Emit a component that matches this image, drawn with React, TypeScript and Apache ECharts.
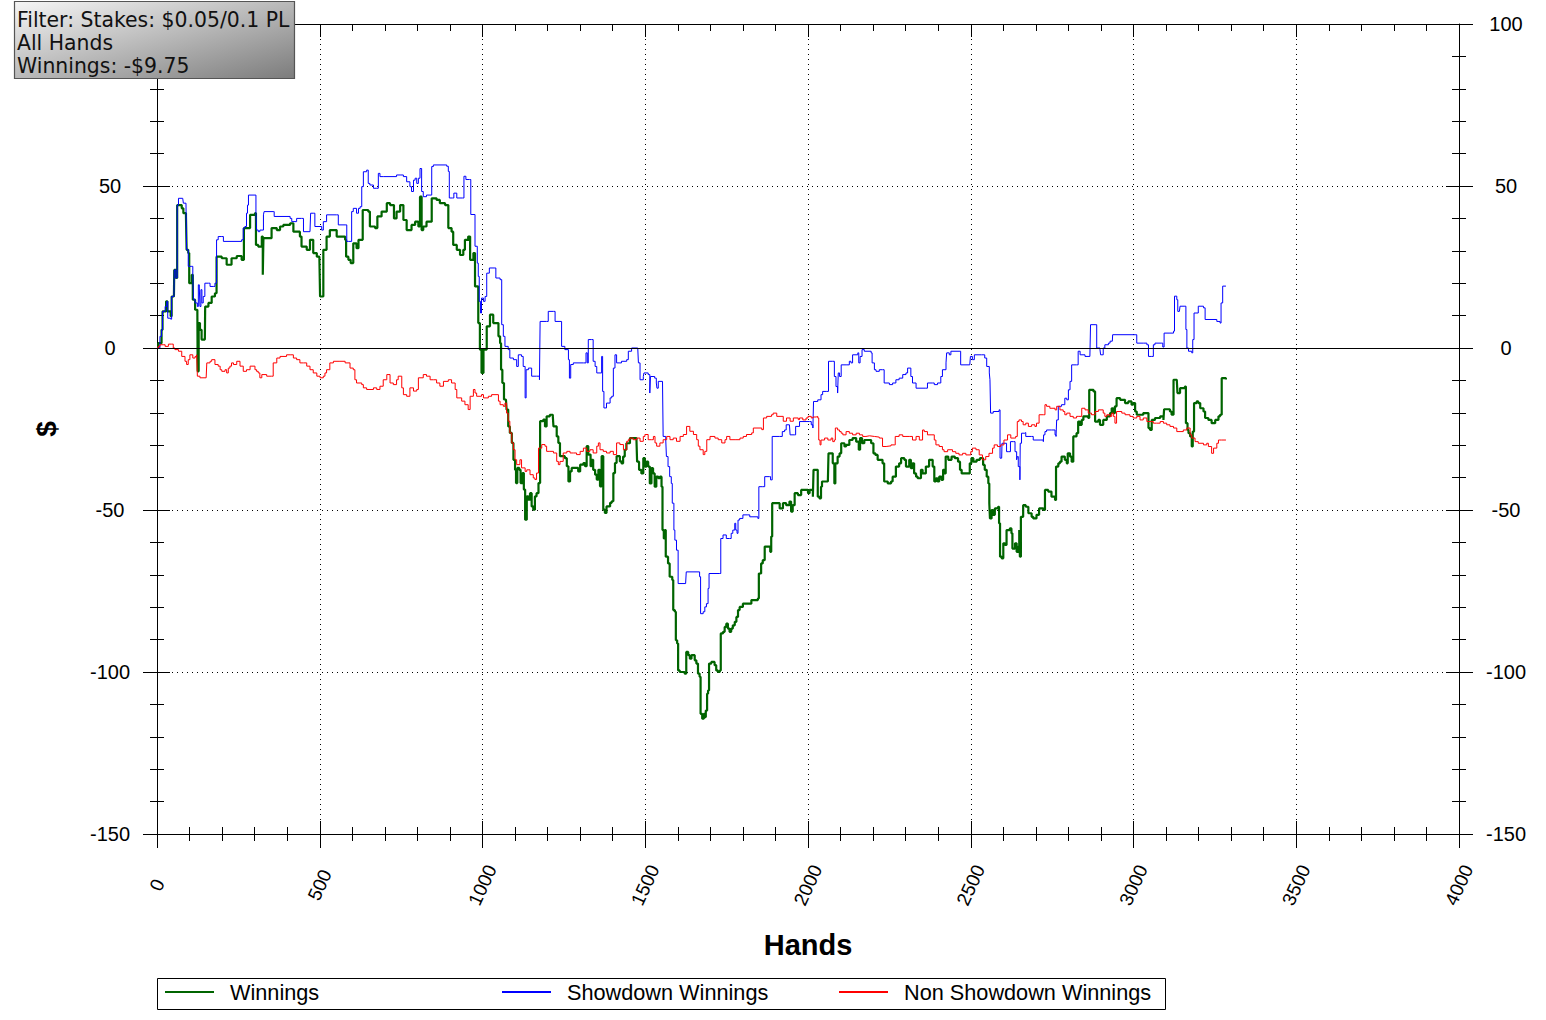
import React, { useEffect, useRef } from "react";
import * as echarts from "echarts";

const X_MIN = 0;
const X_MAX = 4000;
const X_STEP = 500;
const Y_MIN = -150;
const Y_MAX = 100;
const Y_STEP = 50;

const X_TITLE = "Hands";
const Y_TITLE = "$";
const SERIES_NAMES = ["Winnings", "Showdown Winnings", "Non Showdown Winnings"];
const SERIES_COLORS = ["#006400", "#0000ff", "#ff0000"];
const SERIES_WIDTHS = [2.2, 1, 1];
const FILTER_LINES = ["Filter: Stakes: $0.05/0.1 PL", "All Hands", "Winnings: -$9.75"];

// [hand, $]
const WINNINGS = [
  [0, 0], [4, 1.5], [14, 5.6], [17, 11.3], [28, 14.4], [32, 11.3], [42, 9.8], [45, 15.9], [52, 15.9], [53, 24.1], [58, 21.6],
  [62, 44.1], [76, 43.1], [81, 41.6], [89, 40.6], [91, 30.3], [96, 29.3], [99, 20.0], [107, 22.6], [110, 14.9], [117, 11.8],
  [124, 10.8], [125, -7.2], [128, 7.7], [132, 5.6], [137, 2.6], [147, 2.6], [148, 12.8], [158, 13.9], [168, 15.9], [178, 16.9],
  [183, 28.2], [199, 27.7], [214, 25.7], [229, 27.7], [245, 28.4], [260, 27.2], [267, 37.0], [281, 37.0], [286, 41.1], [301, 41.6],
  [304, 31.8], [311, 31.3], [322, 34.4], [325, 22.6], [327, 33.9], [347, 33.9], [352, 37.0], [368, 36.4], [378, 37.5], [388, 38.0],
  [409, 38.5], [419, 35.9], [434, 35.9], [439, 34.4], [444, 31.3], [460, 30.3], [470, 33.4], [480, 29.3], [491, 28.2], [499, 27.2],
  [501, 15.9], [506, 15.9], [511, 30.3], [521, 34.4], [531, 36.4], [542, 36.4], [552, 34.4], [562, 34.4], [578, 33.4], [581, 28.2],
  [588, 27.2], [595, 26.2], [603, 32.3], [613, 30.8], [619, 33.4], [624, 33.4], [632, 42.6], [649, 42.1], [654, 37.5], [670, 37.0],
  [677, 40.6], [690, 42.1], [706, 44.7], [716, 44.1], [728, 40.0], [736, 42.1], [747, 44.1], [757, 39.5], [767, 36.4], [782, 38.0],
  [793, 39.0], [803, 37.5], [808, 46.7], [813, 36.4], [818, 37.5], [828, 39.0], [844, 46.2], [859, 45.7], [869, 44.7], [885, 44.1],
  [895, 37.0], [905, 35.9], [910, 31.8], [921, 30.3], [931, 28.7], [941, 30.3], [946, 33.4], [956, 34.4], [962, 27.2], [972, 29.3],
  [977, 19.0], [987, 7.7], [992, -0.5], [997, -7.7], [1003, -0.5], [1013, 6.7], [1023, 10.3], [1033, 7.7], [1049, 3.6], [1054, 1.5],
  [1057, -6.7], [1061, -10.8], [1066, -15.9], [1072, -15.9], [1074, -19.0], [1079, -24.2], [1084, -26.2], [1090, -29.3], [1095, -34.5],
  [1100, -37.6], [1103, -41.7], [1107, -37.0], [1113, -37.6], [1117, -41.7], [1123, -38.6], [1127, -43.7], [1131, -53.0], [1136, -45.8],
  [1141, -46.8], [1146, -44.8], [1151, -48.9], [1156, -49.9], [1161, -45.8], [1166, -44.8], [1172, -41.7], [1177, -22.6], [1187, -22.1],
  [1192, -24.2], [1197, -21.1], [1207, -20.6], [1216, -21.1], [1218, -24.2], [1223, -24.2], [1228, -27.3], [1233, -29.3], [1238, -33.4],
  [1253, -34.0], [1259, -36.5], [1264, -41.2], [1269, -38.1], [1274, -37.0], [1284, -37.0], [1294, -38.1], [1300, -36.0], [1310, -35.5],
  [1315, -36.5], [1320, -30.3], [1325, -32.9], [1332, -36.5], [1335, -34.5], [1340, -37.6], [1346, -39.1], [1351, -40.6], [1356, -37.6],
  [1361, -42.7], [1366, -33.4], [1371, -49.9], [1376, -50.9], [1381, -48.9], [1392, -47.8], [1397, -47.3], [1402, -38.6], [1407, -35.5],
  [1412, -33.4], [1422, -35.0], [1427, -35.6], [1432, -33.5], [1437, -31.4], [1442, -29.4], [1453, -27.8], [1463, -27.8], [1473, -28.4],
  [1475, -35.1], [1481, -37.6], [1488, -38.7], [1494, -34.0], [1499, -36.6], [1504, -35.1], [1509, -36.6], [1514, -41.8], [1519, -37.1],
  [1524, -38.7], [1529, -42.8], [1534, -39.7], [1540, -40.2], [1545, -39.7], [1550, -42.8], [1553, -56.2], [1557, -58.8], [1560, -56.2],
  [1563, -64.4], [1570, -66.5], [1575, -70.6], [1583, -71.6], [1586, -80.9], [1591, -81.4], [1594, -90.2], [1598, -91.2], [1601, -99.5],
  [1606, -100], [1616, -100], [1621, -100.5], [1626, -93.8], [1632, -94.8], [1637, -95.9], [1642, -94.8], [1652, -96.4], [1657, -97.4],
  [1662, -100.5], [1667, -101.5], [1670, -112.9], [1675, -114.4], [1680, -112.9], [1683, -113.9], [1686, -111.9], [1690, -106.7],
  [1693, -105.7], [1696, -97.4], [1703, -96.9], [1713, -97.9], [1718, -99.5], [1723, -100], [1729, -99.5], [1732, -88.1], [1739, -87.6],
  [1744, -86.1], [1749, -85.1], [1754, -86.6], [1759, -87.6], [1764, -86.6], [1769, -85.6], [1775, -84.5], [1780, -83.0], [1785, -80.9],
  [1790, -79.9], [1800, -78.9], [1821, -78.9], [1826, -77.8], [1846, -77.3], [1849, -69.6], [1856, -66.5], [1861, -65.5], [1867, -61.3],
  [1877, -61.3], [1884, -62.9], [1887, -58.2], [1890, -47.9], [1902, -47.9], [1913, -49.5], [1923, -47.9], [1933, -48.5], [1943, -47.4],
  [1948, -50.5], [1953, -48.5], [1959, -44.8], [1969, -45.4], [1979, -43.8], [1989, -43.8], [2000, -44.8], [2005, -43.8], [2015, -45.9],
  [2017, -37.6], [2025, -37.6], [2030, -45.9], [2035, -46.4], [2040, -42.8], [2043, -41.2], [2061, -41.2], [2063, -32.5], [2073, -32.5],
  [2076, -35.6], [2081, -41.8], [2084, -35.6], [2091, -33.5], [2097, -32.5], [2102, -29.4], [2112, -30.4], [2117, -29.9], [2127, -28.4],
  [2137, -27.8], [2148, -28.9], [2156, -31.4], [2160, -27.8], [2166, -29.4], [2173, -28.4], [2183, -28.4], [2194, -29.4], [2201, -32.5],
  [2207, -33.0], [2214, -34.5], [2229, -35.6], [2234, -41.2], [2245, -41.8], [2255, -41.2], [2260, -39.7], [2270, -36.6], [2280, -35.6],
  [2286, -34.0], [2296, -34.5], [2301, -36.6], [2311, -34.5], [2316, -37.1], [2321, -35.6], [2326, -38.7], [2332, -39.7], [2337, -40.2],
  [2347, -37.6], [2352, -38.7], [2362, -36.6], [2372, -34.5], [2383, -36.6], [2388, -41.2], [2393, -40.2], [2398, -41.2], [2403, -39.7],
  [2410, -40.7], [2415, -37.6], [2420, -38.7], [2423, -33.5], [2431, -34.5], [2441, -33.5], [2451, -34.0], [2461, -35.1], [2467, -37.6],
  [2472, -38.7], [2487, -38.7], [2497, -35.6], [2502, -34.0], [2508, -35.1], [2518, -34.5], [2528, -34.0], [2538, -36.1], [2543, -37.6],
  [2549, -39.7], [2554, -41.8], [2557, -47.9], [2559, -52.6], [2564, -50.0], [2569, -51.5], [2574, -49.5], [2584, -49.0], [2587, -54.1],
  [2590, -64.4], [2595, -64.9], [2600, -60.3], [2605, -60.8], [2610, -56.2], [2620, -55.7], [2625, -57.2], [2628, -61.9], [2636, -60.3],
  [2641, -62.9], [2646, -61.3], [2649, -56.2], [2651, -64.4], [2654, -52.1], [2661, -48.5], [2669, -49.0], [2677, -51.0], [2687, -52.1],
  [2692, -52.6], [2702, -51.5], [2710, -49.5], [2723, -50.0], [2728, -43.8], [2738, -44.3], [2748, -45.9], [2759, -46.9], [2762, -36.6],
  [2769, -35.6], [2774, -35.1], [2779, -33.5], [2789, -34.5], [2795, -35.6], [2798, -32.5], [2805, -33.5], [2810, -35.1], [2815, -27.3],
  [2825, -26.3], [2830, -22.7], [2836, -23.7], [2841, -22.2], [2846, -21.1], [2861, -21.6], [2864, -12.9], [2877, -13.4], [2882, -22.7],
  [2892, -22.2], [2897, -23.7], [2907, -22.2], [2918, -21.1], [2928, -20.1], [2933, -18.6], [2938, -20.1], [2943, -18.0], [2948, -15.5],
  [2959, -16.0], [2974, -17.0], [2984, -16.5], [2994, -17.5], [2999, -17.0], [3005, -19.6], [3010, -20.6], [3030, -20.1], [3041, -20.1],
  [3046, -24.7], [3051, -25.3], [3056, -22.2], [3066, -21.6], [3082, -21.1], [3092, -22.2], [3094, -18.9], [3112, -19.6], [3117, -20.6],
  [3123, -9.8], [3133, -9.8], [3135, -13.9], [3143, -12.4], [3158, -11.9], [3161, -23.2], [3166, -25.3], [3169, -26.3], [3174, -27.3],
  [3179, -30.4], [3182, -25.8], [3186, -17.0], [3194, -16.5], [3199, -17.0], [3205, -18.6], [3215, -19.6], [3220, -21.6], [3230, -22.2],
  [3240, -23.2], [3251, -22.2], [3261, -21.1], [3266, -20.6], [3271, -9.3], [3284, -9.75],
];

const SHOWDOWN = [
  [0, 0], [9, 3.6], [14, 5.6], [17, 11.3], [25, 12.8], [30, 14.4], [33, 9.2], [42, 8.9], [45, 15.9], [52, 15.9], [53, 24.1], [58, 21.6],
  [62, 44.1], [66, 46.2], [79, 46.2], [81, 44.7], [89, 44.7], [91, 30.3], [96, 25.2], [107, 25.2], [110, 22.6], [112, 14.9], [117, 13.9],
  [124, 12.8], [127, 19.5], [130, 18.5], [132, 12.8], [135, 18.0], [138, 13.9], [142, 15.9], [147, 20.0], [158, 20.0], [163, 19.0],
  [173, 19.0], [178, 20.0], [183, 33.4], [188, 34.4], [199, 34.4], [204, 32.9], [255, 32.9], [260, 33.4], [265, 37.0], [270, 37.5],
  [275, 41.6], [278, 44.1], [281, 47.2], [301, 47.2], [304, 41.6], [306, 36.4], [311, 35.9], [316, 36.4], [327, 41.1], [329, 42.1],
  [357, 42.1], [360, 40.6], [409, 40.0], [414, 39.0], [424, 39.0], [429, 40.0], [444, 40.0], [450, 35.9], [470, 35.9], [472, 41.6],
  [480, 41.6], [485, 37.5], [501, 37.5], [506, 36.4], [511, 39.0], [521, 41.1], [552, 41.1], [557, 38.0], [578, 38.0], [583, 32.9],
  [588, 32.9], [598, 42.1], [603, 43.1], [613, 41.6], [619, 43.1], [624, 43.6], [629, 49.8], [634, 54.4], [644, 54.9], [649, 50.8],
  [654, 50.3], [665, 49.3], [675, 49.3], [680, 53.9], [685, 52.9], [695, 52.9], [736, 53.4], [747, 53.4], [757, 52.9], [767, 51.3],
  [777, 49.8], [782, 48.3], [788, 51.8], [793, 52.4], [798, 50.8], [803, 52.4], [808, 55.4], [813, 48.3], [818, 46.7], [828, 47.2],
  [844, 56.0], [849, 56.5], [885, 56.5], [890, 56.1], [895, 54.5], [898, 46.3], [908, 46.3], [912, 47.8], [921, 46.3], [939, 46.3],
  [943, 53.0], [949, 52.0], [960, 52.0], [964, 41.2], [974, 41.2], [977, 31.4], [984, 26.2], [987, 22.1], [990, 14.4], [994, 10.8],
  [997, 15.4], [1003, 14.4], [1008, 15.9], [1013, 23.1], [1021, 24.7], [1038, 24.7], [1041, 21.6], [1054, 21.1], [1059, 7.2], [1064, 3.6],
  [1069, 0.5], [1079, -0.5], [1084, -3.1], [1095, -3.6], [1105, -5.7], [1110, -2.1], [1120, -2.6], [1125, -5.7], [1131, -15.4],
  [1134, -6.7], [1141, -6.2], [1151, -8.7], [1166, -8.7], [1175, -9.8], [1177, 8.2], [1197, 8.2], [1202, 11.3], [1218, 11.3], [1223, 8.2],
  [1238, 8.2], [1243, 0.5], [1253, -0.5], [1264, -3.6], [1267, -9.3], [1271, -5.1], [1279, -4.6], [1310, -4.6], [1318, -1.5], [1322, -4.6],
  [1325, 2.6], [1335, 2.6], [1340, -4.1], [1346, -5.7], [1351, -7.7], [1361, -7.7], [1366, -2.6], [1369, -13.4], [1373, -18.5],
  [1381, -17.0], [1392, -15.4], [1397, -14.9], [1402, -6.2], [1407, -2.1], [1412, -4.6], [1422, -4.6], [1427, -4.1], [1443, -3.6],
  [1448, -1.0], [1458, 0], [1477, 0], [1479, -4.6], [1484, -9.8], [1494, -8.8], [1496, -7.7], [1509, -8.2], [1514, -13.9], [1516, -8.8],
  [1524, -8.8], [1529, -9.3], [1534, -10.8], [1536, -12.4], [1540, -10.3], [1553, -10.3], [1555, -27.3], [1563, -28.4], [1565, -33.5],
  [1570, -36.6], [1575, -39.7], [1580, -41.8], [1583, -47.9], [1588, -56.2], [1591, -59.3], [1596, -62.4], [1601, -72.7], [1624, -72.7],
  [1626, -69.1], [1662, -69.1], [1667, -70.6], [1670, -82.0], [1678, -81.4], [1683, -79.9], [1688, -78.9], [1693, -74.2], [1696, -69.6],
  [1729, -69.6], [1732, -58.8], [1739, -57.7], [1749, -58.8], [1759, -58.8], [1764, -57.2], [1769, -56.2], [1775, -54.1], [1778, -56.2],
  [1782, -57.2], [1785, -53.1], [1790, -52.6], [1800, -51.5], [1815, -51.5], [1821, -52.1], [1846, -52.6], [1849, -42.8], [1861, -42.8],
  [1867, -39.7], [1882, -39.7], [1885, -40.7], [1890, -27.3], [1913, -27.3], [1921, -25.8], [1928, -25.3], [1933, -23.7], [1943, -23.7],
  [1945, -26.8], [1959, -26.8], [1962, -24.2], [1974, -22.7], [2005, -22.7], [2010, -23.7], [2015, -24.7], [2017, -16.5], [2030, -16.0],
  [2040, -14.4], [2045, -13.4], [2056, -13.4], [2063, -4.1], [2076, -4.1], [2081, -8.8], [2086, -11.9], [2091, -13.9], [2093, -7.7],
  [2097, -8.8], [2102, -5.2], [2117, -5.2], [2127, -4.1], [2132, -4.6], [2137, -2.1], [2153, -1.5], [2156, -4.6], [2160, -2.6],
  [2166, -0.5], [2173, -1.0], [2194, -1.5], [2197, -4.6], [2204, -6.7], [2209, -7.2], [2219, -6.7], [2229, -6.7], [2234, -10.8],
  [2250, -11.3], [2260, -10.8], [2270, -9.8], [2280, -9.3], [2291, -8.2], [2301, -7.7], [2306, -6.2], [2316, -8.8], [2321, -10.8],
  [2332, -12.4], [2362, -12.4], [2367, -10.8], [2383, -10.8], [2388, -11.3], [2398, -10.8], [2408, -8.8], [2413, -6.7], [2424, -4.6],
  [2426, -1.5], [2434, -2.1], [2439, -1.0], [2464, -1.0], [2469, -5.2], [2497, -5.2], [2499, -2.6], [2505, -3.6], [2511, -2.1],
  [2533, -2.1], [2543, -3.1], [2549, -5.7], [2557, -7.7], [2559, -9.8], [2561, -20.1], [2569, -19.6], [2587, -19.1], [2590, -34.0],
  [2595, -34.0], [2596, -29.4], [2605, -29.4], [2610, -32.0], [2615, -32.0], [2622, -28.9], [2631, -28.9], [2636, -32.0], [2641, -34.5],
  [2643, -33.5], [2646, -36.6], [2651, -40.7], [2652, -29.4], [2656, -26.3], [2666, -26.1], [2669, -27.3], [2687, -27.3], [2692, -28.4],
  [2713, -28.4], [2723, -28.9], [2724, -26.8], [2728, -25.8], [2733, -25.3], [2748, -25.3], [2759, -26.8], [2762, -27.3], [2764, -22.2],
  [2769, -18.0], [2779, -17.5], [2789, -15.5], [2795, -16.0], [2800, -12.9], [2805, -10.3], [2810, -5.2], [2825, -5.2], [2830, -1.0],
  [2836, -2.1], [2851, -2.6], [2866, -2.6], [2868, 7.2], [2882, 7.2], [2887, 0], [2897, -0.5], [2899, -2.1], [2907, 0], [2912, 1.0],
  [2923, 1.5], [2928, 2.1], [2935, 2.1], [2936, 4.1], [3005, 4.1], [3010, 1.5], [3030, 1.5], [3041, 1.0], [3046, -2.6], [3056, -2.6],
  [3061, 1.0], [3066, 1.5], [3087, 1.5], [3090, 0.3], [3094, 4.6], [3112, 4.6], [3123, 5.2], [3126, 16.0], [3133, 14.9], [3136, 11.3],
  [3141, 11.3], [3143, 12.9], [3158, 12.9], [3161, 5.7], [3164, 0], [3169, -1.0], [3179, -1.5], [3182, 2.6], [3186, 10.8], [3192, 10.8],
  [3199, 12.9], [3215, 12.4], [3220, 8.8], [3256, 8.2], [3266, 7.7], [3269, 13.9], [3274, 19.1], [3284, 19.1],
];

const NON_SHOWDOWN = [
  [0, 0], [4, 0.5], [9, 1.0], [19, 1.0], [25, 0.5], [35, 1.2], [45, 1.2], [50, 0], [55, -0.5], [66, -1.0], [76, -2.6], [86, -4.1],
  [91, -5.1], [96, -3.6], [101, -2.1], [110, -3.1], [117, -2.6], [122, -2.1], [124, -8.7], [132, -9.2], [151, -9.2], [153, -4.6],
  [163, -4.1], [168, -3.6], [178, -5.1], [188, -5.6], [194, -6.7], [199, -7.2], [209, -6.7], [214, -7.7], [219, -6.2], [224, -5.6],
  [229, -4.6], [235, -5.1], [245, -4.1], [255, -5.6], [265, -7.2], [275, -6.7], [286, -5.6], [301, -6.7], [306, -7.2], [311, -7.7],
  [316, -9.2], [322, -8.2], [337, -8.7], [352, -8.7], [357, -4.6], [368, -3.1], [378, -2.6], [398, -2.1], [409, -2.1], [419, -3.1],
  [429, -3.6], [439, -4.6], [450, -4.6], [460, -5.6], [470, -6.7], [480, -7.7], [491, -8.7], [501, -9.2], [511, -8.7], [516, -7.7],
  [521, -6.7], [531, -4.6], [542, -4.1], [562, -4.1], [578, -4.6], [593, -6.2], [603, -6.7], [608, -9.8], [613, -10.8], [629, -11.3],
  [634, -12.3], [644, -12.8], [665, -12.3], [675, -12.8], [685, -11.8], [695, -9.8], [706, -8.2], [716, -10.8], [726, -11.3],
  [736, -9.8], [741, -8.7], [752, -12.3], [757, -14.4], [767, -14.9], [777, -12.3], [788, -13.3], [798, -12.8], [803, -9.2],
  [818, -8.2], [828, -8.7], [839, -9.8], [849, -9.8], [859, -10.8], [869, -11.8], [880, -10.3], [895, -9.8], [905, -10.8],
  [916, -12.8], [921, -15.4], [936, -16.4], [946, -17.5], [956, -19.0], [962, -14.9], [972, -12.8], [977, -13.9], [982, -14.9],
  [997, -14.4], [1003, -15.4], [1018, -14.9], [1028, -14.4], [1049, -16.4], [1054, -17.5], [1064, -18.0], [1069, -17.0], [1074, -20.1],
  [1079, -22.6], [1084, -26.2], [1090, -29.3], [1095, -31.4], [1100, -34.5], [1105, -36.0], [1115, -34.5], [1120, -37.0], [1131, -38.1],
  [1136, -37.6], [1146, -39.1], [1156, -40.1], [1161, -40.6], [1166, -38.6], [1172, -30.9], [1177, -30.9], [1182, -29.8], [1192, -30.3],
  [1197, -31.9], [1207, -31.9], [1218, -32.4], [1228, -35.0], [1233, -36.0], [1238, -35.0], [1248, -32.4], [1259, -31.9], [1269, -32.4],
  [1279, -32.4], [1289, -32.9], [1300, -31.9], [1310, -30.9], [1320, -31.9], [1330, -31.4], [1340, -32.4], [1351, -30.3], [1356, -29.3],
  [1361, -31.4], [1371, -31.9], [1381, -32.4], [1392, -31.9], [1402, -32.9], [1412, -29.3], [1422, -29.8], [1433, -31.4], [1443, -28.8],
  [1448, -28.3], [1453, -27.8], [1463, -28.3], [1474, -27.8], [1484, -28.8], [1494, -27.3], [1499, -26.7], [1509, -28.3], [1520, -28.3],
  [1525, -27.3], [1530, -29.3], [1535, -30.3], [1545, -29.3], [1555, -28.3], [1566, -27.3], [1576, -28.3], [1586, -27.8], [1596, -28.8],
  [1607, -27.3], [1617, -26.7], [1627, -24.2], [1637, -25.7], [1648, -26.7], [1658, -28.3], [1663, -30.3], [1668, -31.4], [1678, -32.9],
  [1683, -31.9], [1689, -28.3], [1699, -27.3], [1714, -27.8], [1724, -28.3], [1735, -29.3], [1745, -28.3], [1750, -27.3], [1760, -28.3],
  [1776, -28.3], [1791, -27.8], [1801, -27.3], [1811, -26.7], [1827, -26.2], [1832, -24.7], [1858, -25.2], [1863, -21.6], [1873, -21.1],
  [1888, -20.6], [1893, -20.1], [1904, -21.1], [1914, -21.1], [1924, -22.6], [1934, -21.6], [1945, -22.6], [1955, -21.6], [1970, -22.1],
  [1974, -21.6], [1984, -22.2], [1994, -21.6], [2000, -21.1], [2010, -21.6], [2015, -21.3], [2025, -21.1], [2030, -21.6], [2033, -28.4],
  [2037, -29.9], [2040, -28.4], [2051, -27.8], [2061, -28.4], [2071, -27.8], [2076, -28.9], [2081, -28.4], [2084, -24.7], [2091, -25.3],
  [2097, -25.8], [2102, -26.3], [2107, -26.8], [2117, -25.8], [2127, -26.3], [2137, -26.8], [2148, -26.3], [2158, -26.8], [2168, -27.3],
  [2178, -27.1], [2189, -27.3], [2204, -27.5], [2219, -27.8], [2229, -30.4], [2240, -30.2], [2255, -29.9], [2265, -29.9], [2268, -27.3],
  [2280, -26.8], [2291, -27.3], [2301, -27.3], [2311, -27.3], [2321, -28.4], [2332, -27.3], [2342, -28.4], [2352, -25.3], [2357, -25.8],
  [2367, -26.8], [2378, -26.8], [2388, -28.4], [2393, -29.9], [2403, -30.4], [2413, -31.4], [2418, -32.0], [2429, -31.4], [2444, -32.0],
  [2454, -32.5], [2464, -33.0], [2475, -32.5], [2485, -33.0], [2500, -32.0], [2505, -30.9], [2516, -31.4], [2526, -33.0], [2536, -34.5],
  [2546, -33.5], [2556, -32.5], [2567, -30.9], [2572, -29.9], [2582, -30.4], [2592, -29.9], [2602, -28.4], [2613, -26.8], [2623, -27.8],
  [2633, -27.8], [2638, -27.3], [2643, -22.7], [2648, -22.2], [2656, -22.7], [2661, -23.7], [2669, -23.2], [2677, -24.2], [2687, -23.7],
  [2697, -24.2], [2702, -23.2], [2710, -20.6], [2723, -20.6], [2728, -17.5], [2733, -18.0], [2743, -18.6], [2759, -19.1], [2764, -18.0],
  [2774, -19.1], [2784, -19.6], [2789, -20.6], [2795, -20.1], [2805, -21.1], [2815, -21.6], [2825, -21.1], [2830, -21.1], [2841, -18.6],
  [2851, -19.1], [2861, -20.1], [2871, -20.6], [2882, -19.6], [2892, -19.1], [2907, -20.1], [2912, -21.1], [2918, -20.6], [2928, -21.1],
  [2933, -20.1], [2938, -21.1], [2943, -23.2], [2948, -19.6], [2964, -20.1], [2974, -20.6], [2989, -21.1], [2999, -21.6], [3010, -21.1],
  [3020, -22.2], [3030, -21.6], [3041, -22.7], [3051, -22.7], [3061, -23.2], [3071, -23.2], [3082, -22.7], [3092, -23.2], [3102, -23.7],
  [3112, -24.2], [3123, -24.7], [3133, -25.8], [3143, -25.8], [3153, -25.3], [3164, -24.7], [3174, -26.8], [3179, -27.8], [3189, -28.9],
  [3199, -29.4], [3215, -29.9], [3225, -29.4], [3230, -30.4], [3235, -30.4], [3240, -32.5], [3246, -30.9], [3256, -29.4], [3261, -28.4],
  [3271, -28.4], [3284, -28.4],
];

const SERIES_DATA = [WINNINGS, SHOWDOWN, NON_SHOWDOWN];

const FONT = "'Liberation Sans', Arial, sans-serif";
const BLACK = "#000";

function buildOption() {
  const tickLine = { color: BLACK, width: 1 };
  const dotted = { color: BLACK, width: 1, type: [1, 4] };
  const xBase = { type: "value", min: X_MIN, max: X_MAX, interval: X_STEP, gridIndex: 0 };
  const yBase = { type: "value", min: Y_MIN, max: Y_MAX, interval: Y_STEP, gridIndex: 0 };
  const minorX = { show: true, splitNumber: 5, length: 7, lineStyle: tickLine };
  const minorY = { show: true, splitNumber: 5, length: 7, lineStyle: tickLine };
  const labelStyle = { fontSize: 20, fontFamily: FONT, color: BLACK };

  return {
    animation: false,
    backgroundColor: "#fff",
    grid: { left: 157, top: 24, width: 1302, height: 810, containLabel: false },
    xAxis: [
      {
        ...xBase,
        position: "bottom",
        axisLine: { show: true, onZero: false, lineStyle: tickLine },
        axisTick: { show: true, inside: false, length: 14, lineStyle: tickLine },
        minorTick: minorX,
        axisLabel: {
          ...labelStyle,
          fontSize: 19,
          rotate: 65,
          align: "center",
          verticalAlign: "middle",
          margin: 51,
          formatter: (v: number) => String(v),
        },
        splitLine: { show: true, lineStyle: dotted },
        name: X_TITLE,
        nameLocation: "middle",
        nameGap: 96,
        nameTextStyle: { fontSize: 29, fontWeight: "bold", fontFamily: FONT, color: BLACK },
      },
      {
        ...xBase,
        position: "bottom",
        axisLine: { show: false, onZero: false },
        axisTick: { show: true, inside: true, length: 13, lineStyle: tickLine },
        minorTick: minorX,
        axisLabel: { show: false },
        splitLine: { show: false },
      },
      {
        ...xBase,
        position: "top",
        axisLine: { show: true, onZero: false, lineStyle: tickLine },
        axisTick: { show: true, inside: true, length: 13, lineStyle: tickLine },
        minorTick: minorX,
        axisLabel: { show: false },
        splitLine: { show: false },
      },
    ],
    yAxis: [
      {
        ...yBase,
        position: "left",
        axisLine: { show: true, onZero: false, lineStyle: tickLine },
        axisTick: { show: true, inside: false, length: 14, lineStyle: tickLine },
        minorTick: minorY,
        axisLabel: { ...labelStyle, align: "center", margin: 47, showMaxLabel: false },
        splitLine: { show: true, lineStyle: dotted },
        name: Y_TITLE,
        nameLocation: "middle",
        nameRotate: 90,
        nameGap: 97,
        nameTextStyle: { fontSize: 28, fontWeight: "bold", fontFamily: FONT, color: BLACK },
      },
      {
        ...yBase,
        position: "left",
        axisLine: { show: false, onZero: false },
        axisTick: { show: true, inside: true, length: 13, lineStyle: tickLine },
        minorTick: minorY,
        axisLabel: { show: false },
        splitLine: { show: false },
      },
      {
        ...yBase,
        position: "right",
        axisLine: { show: true, onZero: false, lineStyle: tickLine },
        axisTick: { show: true, inside: false, length: 14, lineStyle: tickLine },
        minorTick: minorY,
        axisLabel: { ...labelStyle, align: "center", margin: 47 },
        splitLine: { show: false },
      },
      {
        ...yBase,
        position: "right",
        axisLine: { show: false, onZero: false },
        axisTick: { show: true, inside: true, length: 13, lineStyle: tickLine },
        minorTick: minorY,
        axisLabel: { show: false },
        splitLine: { show: false },
      },
    ],
    legend: {
      show: true,
      left: 164,
      top: 980,
      padding: 0,
      orient: "horizontal",
      itemWidth: 49,
      itemHeight: 14,
      itemGap: 0,
      selectedMode: false,
      itemStyle: { opacity: 0 },
      textStyle: {
        fontSize: 21.7,
        fontFamily: FONT,
        color: BLACK,
        width: 271,
        lineHeight: 24,
        padding: [0, 0, 0, 11],
      },
      data: SERIES_NAMES,
    },
    graphic: [
      {
        type: "rect",
        z: 100,
        shape: { x: 14.5, y: 1.5, width: 280, height: 77 },
        style: {
          fill: new echarts.graphic.LinearGradient(0, 0, 1, 1, [
            { offset: 0, color: "#f6f6f6" },
            { offset: 1, color: "#7c7c7c" },
          ]),
          stroke: "#555",
          lineWidth: 1.2,
        },
      },
      {
        type: "text",
        z: 101,
        x: 17,
        y: 8.5,
        style: {
          text: FILTER_LINES.join("\n"),
          font: '20.4px "DejaVu Sans"',
          fill: "#111",
          lineHeight: 23,
          verticalAlign: "top",
          align: "left",
        },
      },
      {
        type: "rect",
        z: 10,
        shape: { x: 157.5, y: 978.5, width: 1008, height: 31 },
        style: { fill: "none", stroke: BLACK, lineWidth: 1 },
      },
    ],
    series: SERIES_NAMES.map((name, i) => ({
      name,
      type: "line",
      xAxisIndex: 0,
      yAxisIndex: 0,
      data: SERIES_DATA[i],
      step: "end",
      symbol: "none",
      showSymbol: false,
      color: SERIES_COLORS[i],
      lineStyle: { color: SERIES_COLORS[i], width: SERIES_WIDTHS[i] },
      itemStyle: { color: SERIES_COLORS[i] },
      emphasis: { disabled: true },
      z: 2 + i,
      markLine:
        i === 0
          ? {
              silent: true,
              symbol: ["none", "none"],
              label: { show: false },
              lineStyle: { color: BLACK, width: 1, type: "solid" },
              emphasis: { disabled: true },
              data: [{ yAxis: 0 }],
              animation: false,
            }
          : undefined,
    })),
  };
}

export default function App() {
  const ref = useRef<HTMLDivElement>(null);
  useEffect(() => {
    document.body.style.margin = "0";
    if (!ref.current) return;
    const chart = echarts.init(ref.current, undefined, { renderer: "svg" });
    chart.setOption(buildOption() as any);
    return () => chart.dispose();
  }, []);
  return <div ref={ref} style={{ width: 1546, height: 1020 }} />;
}
